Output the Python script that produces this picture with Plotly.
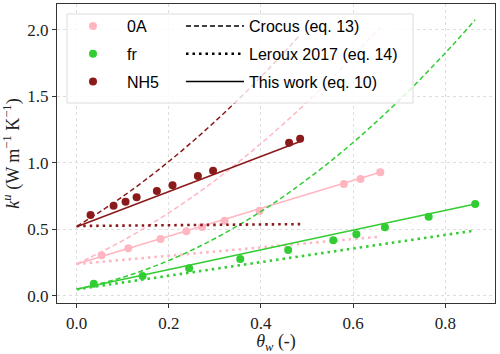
import plotly.graph_objects as go

# ---------------- data ----------------
names = ["0A", "fr", "NH5"]
colors = {"0A": "#ffb6c1", "fr": "#32cd32", "NH5": "#8b1a1a"}

theta_0A = [0.054, 0.112, 0.182, 0.238, 0.272, 0.321, 0.397, 0.580, 0.616, 0.659]
k_0A = [0.304, 0.356, 0.426, 0.484, 0.517, 0.564, 0.639, 0.840, 0.877, 0.928]

theta_fr = [0.037, 0.143, 0.244, 0.355, 0.459, 0.557, 0.607, 0.669, 0.764, 0.865]
k_fr = [0.090, 0.148, 0.206, 0.276, 0.344, 0.416, 0.461, 0.514, 0.594, 0.689]

theta_NH5 = [0.030, 0.080, 0.106, 0.130, 0.174, 0.208, 0.263, 0.296, 0.461, 0.485]
k_NH5 = [0.607, 0.677, 0.707, 0.740, 0.787, 0.830, 0.900, 0.940, 1.150, 1.180]

# Crocus (eq. 13) curves, dashed
crocus_theta_0A = [0.0, 0.1, 0.2, 0.3, 0.4, 0.5, 0.6, 0.659]
crocus_k_0A = [0.238, 0.414, 0.623, 0.866, 1.144, 1.455, 1.800, 2.020]
crocus_theta_fr = [0.0, 0.1, 0.2, 0.3, 0.4, 0.5, 0.6, 0.7, 0.8, 0.865]
crocus_k_fr = [0.048, 0.138, 0.265, 0.430, 0.633, 0.874, 1.152, 1.469, 1.824, 2.074]
crocus_theta_NH5 = [0.0, 0.1, 0.2, 0.3, 0.4, 0.485]
crocus_k_NH5 = [0.520, 0.746, 1.009, 1.309, 1.645, 1.960]

# Leroux 2017 (eq. 14), dotted
leroux_theta_0A = [0.0, 0.659]
leroux_k_0A = [0.238, 0.444]
leroux_theta_fr = [0.0, 0.865]
leroux_k_fr = [0.048, 0.490]
leroux_theta_NH5 = [0.0, 0.485]
leroux_k_NH5 = [0.524, 0.538]

# This work (eq. 10), solid
this_theta_0A = [0.0, 0.659]
this_k_0A = [0.238, 0.928]
this_theta_fr = [0.0, 0.865]
this_k_fr = [0.048, 0.689]
this_theta_NH5 = [0.0, 0.485]
this_k_NH5 = [0.519, 1.160]

x_ticks = [0.0, 0.2, 0.4, 0.6, 0.8]
y_ticks = [0.0, 0.5, 1.0, 1.5, 2.0]

points = {"0A": (theta_0A, k_0A), "fr": (theta_fr, k_fr), "NH5": (theta_NH5, k_NH5)}
crocus = {"0A": (crocus_theta_0A, crocus_k_0A), "fr": (crocus_theta_fr, crocus_k_fr),
          "NH5": (crocus_theta_NH5, crocus_k_NH5)}
leroux = {"0A": (leroux_theta_0A, leroux_k_0A), "fr": (leroux_theta_fr, leroux_k_fr),
          "NH5": (leroux_theta_NH5, leroux_k_NH5)}
thiswork = {"0A": (this_theta_0A, this_k_0A), "fr": (this_theta_fr, this_k_fr),
            "NH5": (this_theta_NH5, this_k_NH5)}

DASH = "5px,3px"
DOT = "2.5px,4px"

fig = go.Figure()

for n in names:
    c = colors[n]
    tx, ty = crocus[n]
    fig.add_trace(go.Scatter(x=tx, y=ty, mode="lines", line=dict(color=c, width=1.5, dash=DASH, shape="spline"),
                             showlegend=False, hoverinfo="skip"))
    tx, ty = leroux[n]
    fig.add_trace(go.Scatter(x=tx, y=ty, mode="lines", line=dict(color=c, width=2.6, dash=DOT),
                             showlegend=False, hoverinfo="skip"))
    tx, ty = thiswork[n]
    fig.add_trace(go.Scatter(x=tx, y=ty, mode="lines", line=dict(color=c, width=1.6),
                             showlegend=False, hoverinfo="skip"))
    px_, py_ = points[n]
    fig.add_trace(go.Scatter(x=px_, y=py_, mode="markers", marker=dict(color=c, size=8),
                             showlegend=False, name=n))

# legend entries
for n in names:
    fig.add_trace(go.Scatter(x=[None], y=[None], mode="markers", marker=dict(color=colors[n], size=8),
                             name=n, legend="legend", legendgroup="g" + n))
for lab, d, w in [("Crocus (eq. 13)", DASH, 1.5), ("Leroux 2017 (eq. 14)", DOT, 2.6), ("This work (eq. 10)", "solid", 1.6)]:
    fig.add_trace(go.Scatter(x=[None], y=[None], mode="lines", line=dict(color="black", width=w, dash=d),
                             name=lab, legend="legend2", legendgroup="h" + lab))

# plot area in pixels: x 57..495, y 4..303
def px2x(p):
    return (p - 57) / 438.0

def py2y(p):
    return (303 - p) / 299.0

fig.add_shape(type="rect", xref="paper", yref="paper",
              x0=px2x(67), x1=px2x(413), y0=py2y(103), y1=py2y(14),
              line=dict(color="#dcdcdc", width=1), fillcolor="rgba(255,255,255,0.8)", layer="above")

leg_font = dict(family="Liberation Sans, Arial, sans-serif", size=16, color="black")
fig.update_layout(
    width=500, height=354,
    margin=dict(l=57, r=5, t=4, b=51, autoexpand=False),
    paper_bgcolor="white", plot_bgcolor="white",
    legend=dict(x=px2x(59), y=py2y(9), xanchor="left", yanchor="top", bgcolor="rgba(0,0,0,0)",
                borderwidth=0, font=leg_font, tracegroupgap=4, itemwidth=58),
    legend2=dict(x=px2x(181), y=py2y(9), xanchor="left", yanchor="top", bgcolor="rgba(0,0,0,0)",
                 borderwidth=0, font=leg_font, tracegroupgap=4, itemwidth=58),
)

axis_common = dict(showline=True, mirror=True, linecolor="#333333", linewidth=1.2,
                   ticks="outside", ticklen=4, tickwidth=1, tickcolor="#333333",
                   showgrid=True, gridcolor="#dedede", gridwidth=1, griddash="dot",
                   zeroline=False, automargin=False,
                   tickfont=dict(family="Liberation Serif, Times New Roman, serif", size=17, color="#222222"))

fig.update_xaxes(range=[-0.0428, 0.908], tickvals=x_ticks, tickformat=".1f",
                 title=dict(text="<i>θ</i><sub><i>w</i></sub> (-)", standoff=4,
                            font=dict(family="Liberation Serif, Times New Roman, serif", size=18, color="#222222")),
                 **axis_common)
fig.update_yaxes(range=[-0.055, 2.193], tickvals=y_ticks, tickformat=".1f",
                 title=dict(text="<i>k</i><sup><i>u</i></sup> (W m<sup>−1</sup> K<sup>−1</sup>)", standoff=4,
                            font=dict(family="Liberation Serif, Times New Roman, serif", size=18, color="#222222")),
                 **axis_common)

fig.write_html("out.html", config={"displayModeBar": False},
               post_script="document.body.style.margin='0px';document.body.style.overflow='hidden';")
